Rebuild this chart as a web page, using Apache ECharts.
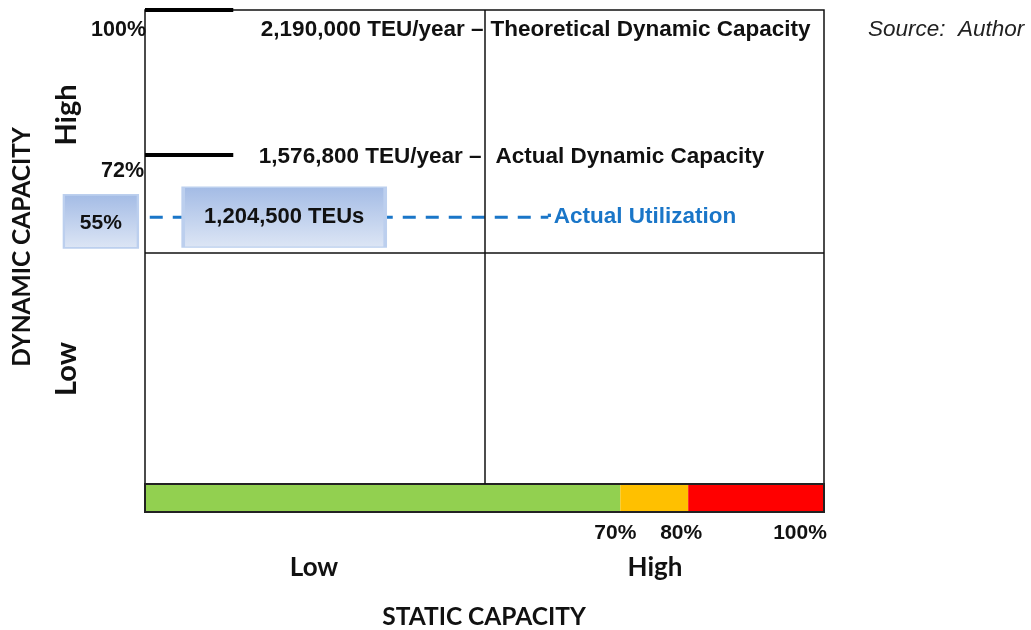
<!DOCTYPE html>
<html>
<head>
<meta charset="utf-8">
<script src="https://cdn.jsdelivr.net/npm/echarts@6/dist/echarts.min.js"></script>
<style>
  html, body { margin: 0; padding: 0; background: #fff; }
  #main { width: 1031px; height: 630px; }
</style>
</head>
<body>
<div id="main"></div>
<script>
// capacity levels (position on the dynamic axis, as drawn) and their texts
const levelNames = ['Theoretical Dynamic Capacity', 'Actual Dynamic Capacity', 'Actual Utilization'];
const levelValues = [100, 69.4, 56.3];
const levelTexts = ['2,190,000 TEU/year \u2013', '1,576,800 TEU/year \u2013', '1,204,500 TEUs'];
const levelPct = ['100%', '72%', '55%'];
// marker line extents on the static axis
const markerStart = [0, 0, 0.7];
const markerEnd = [13, 13, 59.4];
// static capacity bands
const bandNames = ['green', 'amber', 'red'];
const bandValues = [70, 10, 20];
const bandColors = ['#92d050', '#ffc000', '#ff0000'];
const bandTicks = ['70%', '80%', '100%'];
// quadrant split
const splitX = 50;
const splitY = 48.7;

const HELV = '"Liberation Sans", Arial, sans-serif';
const CAL = 'Lato, "Open Sans", sans-serif';

const chart = echarts.init(document.getElementById('main'), null, { renderer: 'canvas' });

const boxGradient = new echarts.graphic.LinearGradient(0, 0, 0, 1, [
  { offset: 0, color: '#a3bbe5' },
  { offset: 1, color: '#dde6f5' }
]);

const series = [
  {
    type: 'line',
    xAxisIndex: 0, yAxisIndex: 0,
    data: [],
    silent: true,
    markLine: {
      symbol: 'none',
      silent: true,
      label: { show: false },
      lineStyle: { color: '#111', width: 1.5, type: 'solid' },
      data: [{ xAxis: splitX }, { yAxis: splitY }]
    }
  }
];

levelValues.forEach((v, i) => {
  const dashed = i === 2;
  series.push({
    name: levelNames[i],
    type: 'line',
    xAxisIndex: 0, yAxisIndex: 0,
    symbol: 'none',
    silent: true,
    clip: false,
    z: 3,
    lineStyle: dashed
      ? { color: '#1a76c8', width: 3, type: [13, 10] }
      : { color: '#000', width: 4 },
    data: [[markerStart[i], v], [markerEnd[i], v]]
  });
});

// value box for the utilization level
series.push({
  type: 'scatter',
  xAxisIndex: 0, yAxisIndex: 0,
  silent: true,
  z: 5,
  symbol: 'rect',
  symbolSize: [202, 60],
  itemStyle: { color: boxGradient, borderColor: '#bccfee', borderWidth: 2, opacity: 1 },
  label: {
    show: true, position: 'inside', formatter: levelTexts[2],
    color: '#111', fontFamily: HELV, fontWeight: 'bold', fontSize: 22
  },
  data: [[20.5, levelValues[2]]]
});
// percent box left of the axis
series.push({
  type: 'scatter',
  xAxisIndex: 0, yAxisIndex: 0,
  silent: true,
  clip: false,
  z: 5,
  symbol: 'rect',
  symbolSize: [74, 53],
  itemStyle: { color: boxGradient, borderColor: '#bccfee', borderWidth: 2, opacity: 1 },
  label: {
    show: true, position: 'inside', formatter: levelPct[2],
    color: '#111', fontFamily: HELV, fontWeight: 'bold', fontSize: 21,
    offset: [0, 2]
  },
  data: [[-6.5, 55.4]]
});

bandValues.forEach((v, i) => {
  series.push({
    name: bandNames[i],
    type: 'bar',
    xAxisIndex: 1, yAxisIndex: 1,
    stack: 'band',
    silent: true,
    barWidth: '100%',
    itemStyle: { color: bandColors[i] },
    data: [v]
  });
});

const option = {
  animation: false,
  backgroundColor: '#fff',
  grid: [
    { left: 145, top: 10, width: 679, height: 474, show: true, borderColor: '#111', borderWidth: 1.5, backgroundColor: 'transparent' },
    { left: 145, top: 484, width: 679, height: 28, show: true, borderColor: '#222', borderWidth: 2, backgroundColor: 'transparent', z: 3 }
  ],
  xAxis: [
    { gridIndex: 0, type: 'value', min: 0, max: 100, show: false },
    { gridIndex: 1, type: 'value', min: 0, max: 100, show: false }
  ],
  yAxis: [
    { gridIndex: 0, type: 'value', min: 0, max: 100, show: false },
    { gridIndex: 1, type: 'category', data: ['static'], show: false }
  ],
  series: series
};
chart.setOption(option);

// annotation texts, anchored on the axes
const px = (x, y) => chart.convertToPixel({ gridIndex: 0 }, [x, y]);
const bx = (x) => chart.convertToPixel({ gridIndex: 1 }, [x, 0])[0];
const mid = px(splitX, 0)[0];
const yTop = px(0, levelValues[0])[1];
const yAct = px(0, levelValues[1])[1];
const yUse = px(0, levelValues[2])[1];

const txt = (x, y, text, o) => ({
  type: 'text', x: x, y: y, silent: true,
  style: Object.assign({
    text: text, fill: '#111', font: 'bold 22.5px ' + HELV,
    textAlign: 'left', textVerticalAlign: 'middle'
  }, o || {})
});
const vtxt = (x, y, text, size) => Object.assign(
  txt(x, y, text, { textAlign: 'center', font: 'bold ' + size + 'px ' + CAL }),
  { rotation: Math.PI / 2 }
);

const bandEnds = [];
bandValues.reduce((acc, v) => { bandEnds.push(acc + v); return acc + v; }, 0);
const tickShift = [-5, -7, -24];

const graphics = [
  txt(mid - 1, yTop + 20, levelTexts[0], { textAlign: 'right' }),
  txt(mid + 6, yTop + 20, levelNames[0]),
  txt(mid - 3, yAct + 2, levelTexts[1], { textAlign: 'right' }),
  txt(mid + 11, yAct + 2, levelNames[1]),
  txt(px(markerEnd[2], 0)[0] - 2, yUse, '\u00b7' + levelNames[2], { fill: '#1a76c8' }),
  txt(146, yTop + 20, levelPct[0], { textAlign: 'right', font: 'bold 21.5px ' + HELV }),
  txt(144, yAct + 16, levelPct[1], { textAlign: 'right', font: 'bold 21.5px ' + HELV }),
  txt(868, 30, 'Source:  Author', { font: 'italic 22.5px ' + HELV, fill: '#222' }),
  // axis titles
  txt(314, 568, 'Low', { textAlign: 'center', font: 'bold 26px ' + CAL }),
  txt(655, 568, 'High', { textAlign: 'center', font: 'bold 26px ' + CAL }),
  txt(484, 617, 'STATIC CAPACITY', { textAlign: 'center', font: 'bold 24.5px ' + CAL }),
  vtxt(22, 247, 'DYNAMIC CAPACITY', 24.5),
  vtxt(67, 115, 'High', 29),
  vtxt(67, 369, 'Low', 29)
];
bandTicks.forEach((t, i) => {
  graphics.push(txt(bx(bandEnds[i]) + tickShift[i], 533, t, { textAlign: 'center', font: 'bold 21px ' + HELV }));
});

chart.setOption({ graphic: graphics });
</script>
</body>
</html>
